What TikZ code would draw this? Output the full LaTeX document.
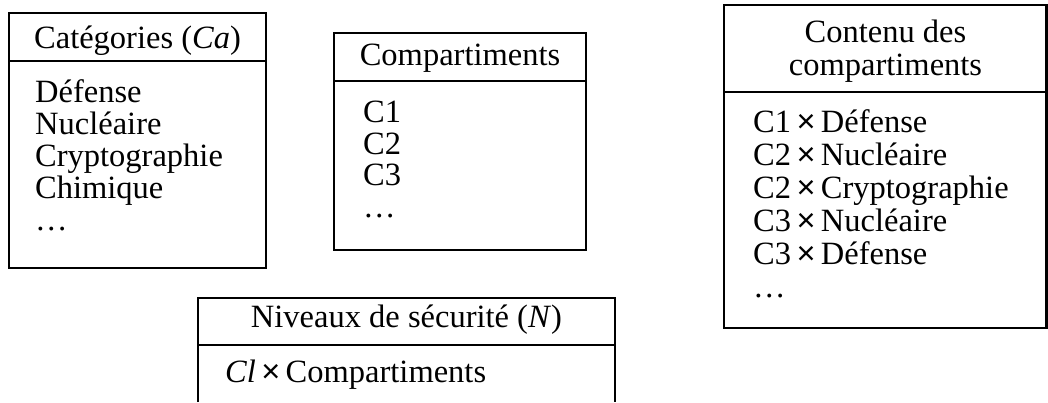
\documentclass[tikz,border=0pt]{standalone}
\usepackage{fontspec}
\setmainfont{Liberation Serif}
\newfontfamily\sansx{Liberation Sans}
\newcommand{\tms}{\,{\sansx ×}\,}
\begin{document}
\begin{tikzpicture}[x=1pt,y=-1pt,
  frame/.style={draw=black,line width=2.6pt},
  headtxt/.style={anchor=base,inner sep=0pt,font=\fontsize{32.5}{33}\selectfont},
  itemtxt/.style={anchor=base west,inner sep=0pt,font=\fontsize{32.5}{33}\selectfont}]
\useasboundingbox (0,0) rectangle (1048,402);
% Box 1: Categories
\draw[frame] (9,13) rectangle (266,268);
\draw[frame] (9,61) -- (266,61);
\node[headtxt] (cah) at (137.5,48) {Catégories (\textit{Ca})};
\node[itemtxt] (ca1) at (35,102) {Défense};
\node[itemtxt] (ca2) at (35,134) {Nucléaire};
\node[itemtxt] (ca3) at (35,166) {Cryptographie};
\node[itemtxt] (ca4) at (35,198) {Chimique};
\node[itemtxt] (ca5) at (35,230) {\dots};
% Box 2: Compartiments
\draw[frame] (334,33) rectangle (586,250);
\draw[frame] (334,81) -- (586,81);
\node[headtxt] (coh) at (460,65) {Compartiments};
\node[itemtxt] (co1) at (363,122) {C1};
\node[itemtxt] (co2) at (363,154) {C2};
\node[itemtxt] (co3) at (363,185) {C3};
\node[itemtxt] (co4) at (363,217) {\dots};
% Box 3: Contenu
\draw[frame] (724,5) rectangle (1046.5,328);
\draw[frame] (724,92) -- (1046.5,92);
\node[headtxt] (cth1) at (885.5,42) {Contenu des};
\node[headtxt] (cth2) at (885.5,75) {compartiments};
\node[itemtxt] (ct1) at (753,132) {C1\tms Défense};
\node[itemtxt] (ct2) at (753,165) {C2\tms Nucléaire};
\node[itemtxt] (ct3) at (753,198) {C2\tms Cryptographie};
\node[itemtxt] (ct4) at (753,231) {C3\tms Nucléaire};
\node[itemtxt] (ct5) at (753,264) {C3\tms Défense};
\node[itemtxt] (ct6) at (753,297) {\dots};
% Box 4: Niveaux
\draw[frame] (198,402) -- (198,298) -- (615,298) -- (615,402);
\draw[frame] (198,345) -- (615,345);
\node[headtxt] (nh) at (406.5,327) {Niveaux de sécurité (\textit{N})};
\node[itemtxt] (n1) at (225,382) {\textit{Cl}\tms Compartiments};
\end{tikzpicture}
\end{document}
